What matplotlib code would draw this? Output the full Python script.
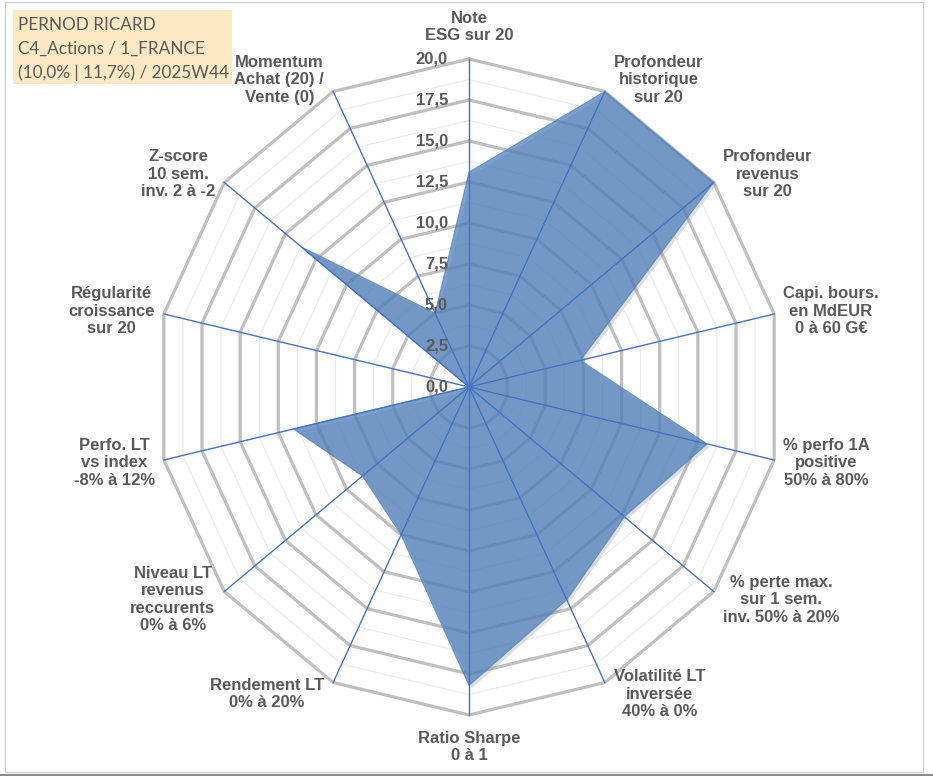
import numpy as np
import matplotlib.pyplot as plt
import matplotlib.patheffects as pe
from matplotlib.patches import Rectangle
from matplotlib.lines import Line2D

# axes of the radar, clockwise from the top
categories = ["Note\nESG sur 20",
              "Profondeur\nhistorique\nsur 20",
              "Profondeur\nrevenus\nsur 20",
              "Capi. bours.\nen MdEUR\n0 à 60 G€",
              "% perfo 1A\npositive\n50% à 80%",
              "% perte max.\nsur 1 sem.\ninv. 50% à 20%",
              "Volatilité LT\ninversée\n40% à 0%",
              "Ratio Sharpe\n0 à 1",
              "Rendement LT\n0% à 20%",
              "Niveau LT\nrevenus\nreccurents\n0% à 6%",
              "Perfo. LT\nvs index\n-8% à 12%",
              "Régularité\ncroissance\nsur 20",
              "Z-score\n10 sem.\ninv. 2 à -2",
              "Momentum\nAchat (20) /\nVente (0)"]
scores = [13.1, 20.0, 20.0, 7.3, 15.6, 12.7, 14.4, 18.2, 10.0, 8.7, 11.5, 0.0, 13.7, 5.0]

major_ticks = [0.0, 2.5, 5.0, 7.5, 10.0, 12.5, 15.0, 17.5, 20.0]
tick_labels = ["0,0", "2,5", "5,0", "7,5", "10,0", "12,5", "15,0", "17,5", "20,0"]

title_lines = ["PERNOD RICARD", "C4_Actions / 1_FRANCE", "(10,0% | 11,7%) / 2025W44"]

W, H = 933, 776
fig = plt.figure(figsize=(W / 100, H / 100), dpi=100)
fig.patch.set_facecolor('white')

# centre (469, 387) px, radius 313 px across, 328 px up/down
cx, cy, rx, ry = 469, 387, 313, 328
ax = fig.add_axes([(cx - rx) / W, (H - cy - ry) / H, 2 * rx / W, 2 * ry / H], projection='polar')
ax.set_aspect('auto')
ax.set_theta_zero_location('N')
ax.set_theta_direction(-1)
ax.set_ylim(0, major_ticks[-1])
ax.grid(False)
ax.set_xticks([])
ax.set_yticks([])
ax.spines['polar'].set_visible(False)
ax.patch.set_alpha(0)

n = len(categories)
theta = np.linspace(0, 2 * np.pi, n, endpoint=False)
closed = np.append(theta, theta[0])

# polygon grid: minor rings halfway between the major ones
step = major_ticks[1] - major_ticks[0]
for r in np.arange(step / 2, major_ticks[-1] + 0.01, step / 2):
    is_major = np.isclose(r % step, 0) or np.isclose(r % step, step)
    ax.plot(closed, np.full(len(closed), r),
            color='#BFBFBF' if is_major else '#EAEAEA',
            lw=2.3 if is_major else 0.8, zorder=1, clip_on=False,
            solid_joinstyle='miter')

# the series (with a soft shadow like excel)
vals = np.append(scores, scores[0])
ax.fill(closed, vals, facecolor='#4F81BD', alpha=0.75, edgecolor='#4F81BD',
        lw=0.8, zorder=2, clip_on=False,
        path_effects=[pe.SimplePatchShadow(offset=(2, -2), shadow_rgbFace='#7F7F7F', alpha=0.25),
                      pe.Normal()])

# spokes
for t in theta:
    ax.plot([t, t], [0, major_ticks[-1]], color='#4472C4', lw=1.0, zorder=3, clip_on=False)

# value labels along the top spoke
for r, lbl in zip(major_ticks, tick_labels):
    ax.annotate(lbl, xy=(0, r), xytext=(-21, 0), textcoords='offset pixels',
                ha='right', va='center', fontsize=12, fontweight='bold',
                color='#595959', family='Liberation Sans', zorder=4)

# category labels outside the outer ring
for t, lbl in zip(theta, categories):
    s, c = np.sin(t), np.cos(t)
    if abs(s) < 0.1:
        ha = 'center'
        va = 'bottom' if c > 0 else 'top'
        off = (0, 16 * np.sign(c))
    else:
        ha = 'left' if s > 0 else 'right'
        va = 'center'
        off = (9 * np.sign(s), 13 * c)
    ax.annotate(lbl, xy=(t, major_ticks[-1]), xytext=off, textcoords='offset pixels',
                ha=ha, va=va, multialignment='center', linespacing=1.2,
                fontsize=12, fontweight='bold', color='#595959',
                family='Liberation Sans', annotation_clip=False)

# title box
fig.patches.append(Rectangle((13 / W, 1 - 84 / H), 219 / W, 74 / H, transform=fig.transFigure,
                             facecolor='#FCE9C3', edgecolor='none', zorder=0))
for i, line in enumerate(title_lines):
    fig.text(18 / W, 1 - (30 + 24 * i) / H, line, ha='left', va='baseline',
             fontsize=12.3, color='#595959', family='Lato')

# chart frame
fig.patches.append(Rectangle((5 / W, 4 / H), 918 / W, 770 / H, transform=fig.transFigure,
                             facecolor='none', edgecolor='#D0D0D0', lw=1))
fig.lines.append(Line2D([0, 1], [1.5 / H, 1.5 / H], transform=fig.transFigure,
                        color='#8C8C8C', lw=1.5))

fig.savefig('out.png', dpi=100)
